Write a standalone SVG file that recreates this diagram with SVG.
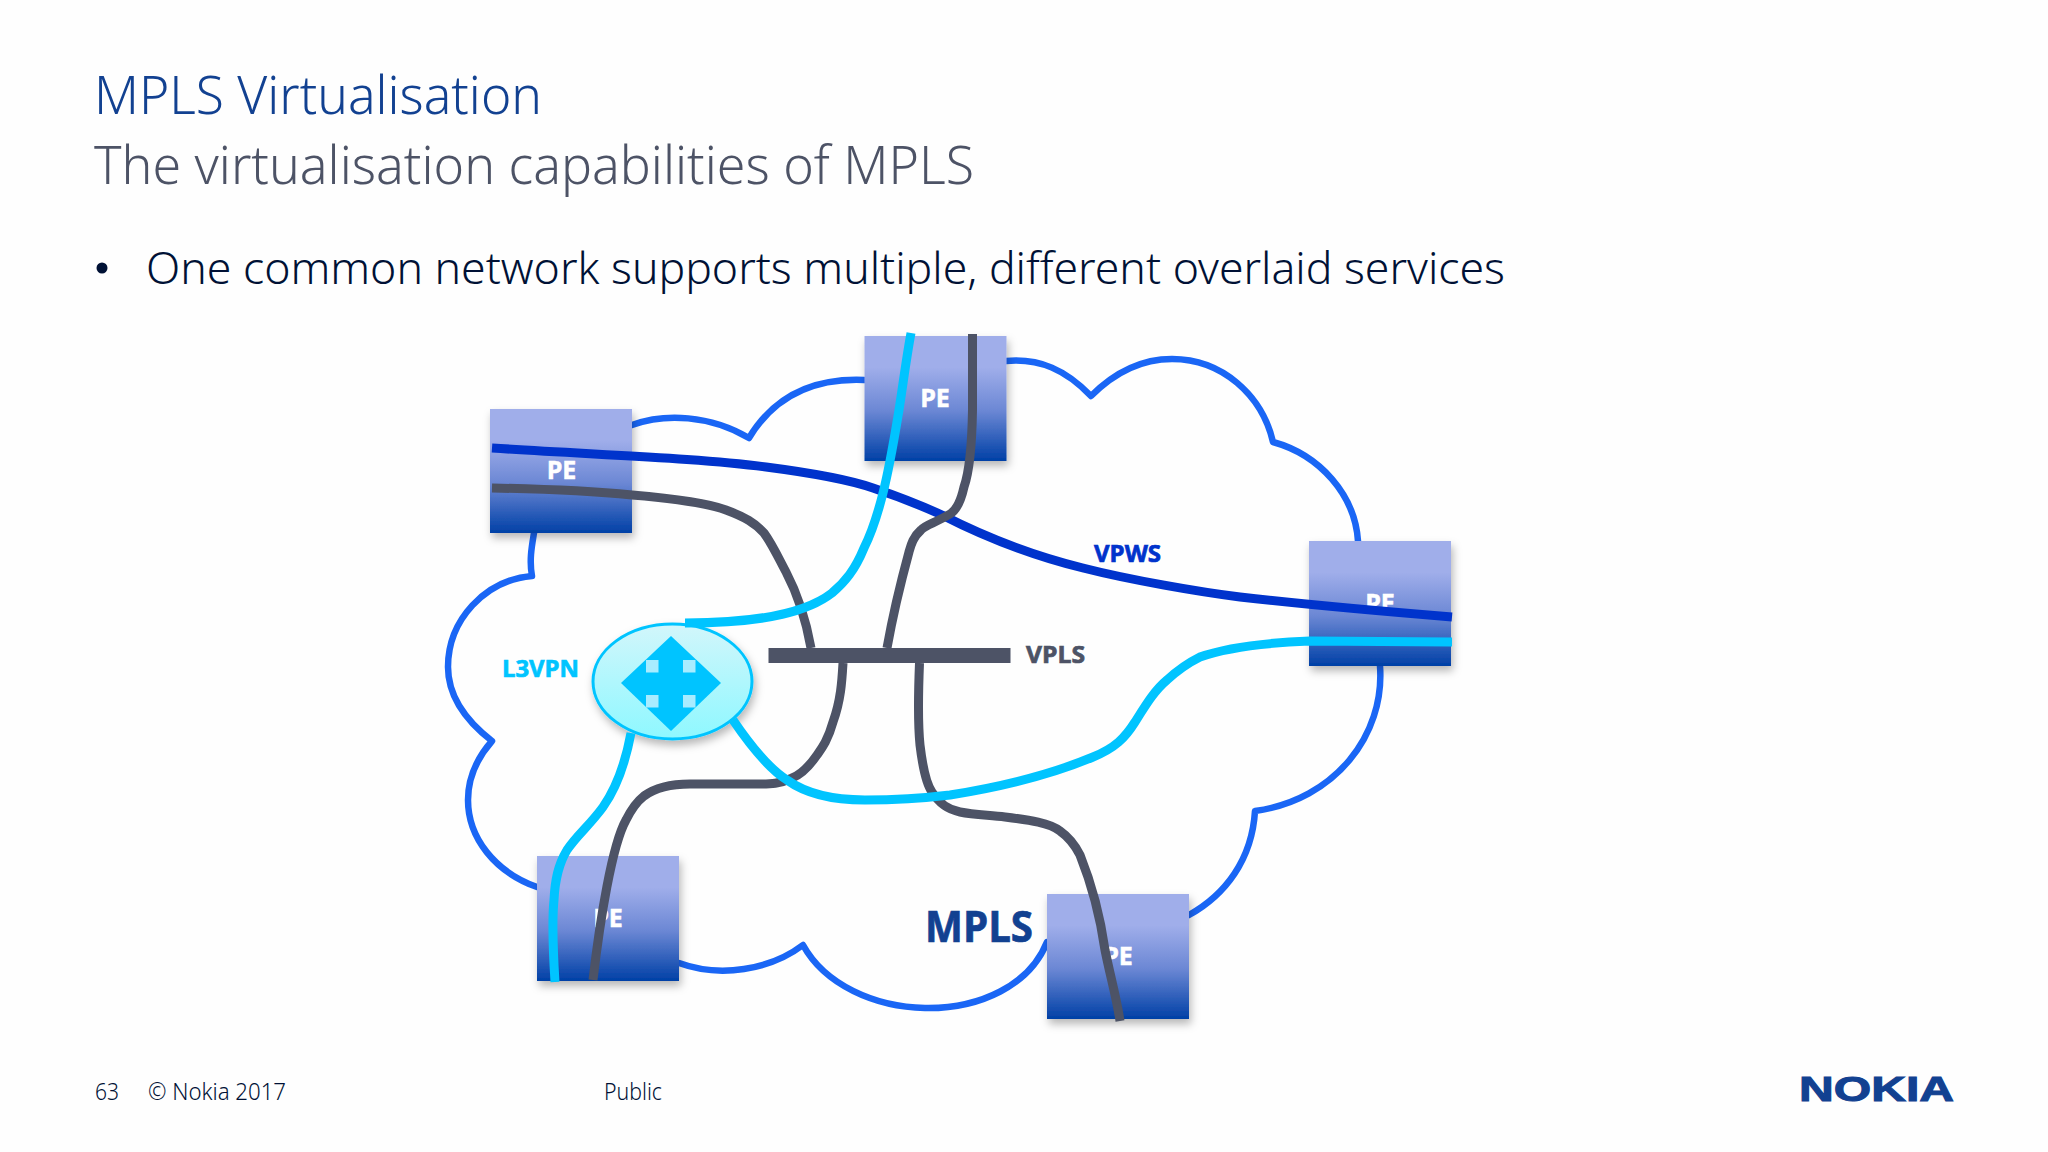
<svg xmlns="http://www.w3.org/2000/svg" width="2048" height="1152" viewBox="0 0 2048 1152">
<style>
.t{font-family:"Noto Sans","Open Sans","Liberation Sans",sans-serif;font-weight:300}
.b{font-family:"Open Sans","Noto Sans","Liberation Sans",sans-serif;font-weight:700}
.pe{fill:#fff;font-size:25px;text-anchor:middle;stroke:#fff;stroke-width:.5}
.box{fill:url(#peg);filter:url(#sh)}
.cloud{fill:none;stroke:#1a66f5;stroke-width:6.5;stroke-linejoin:round;stroke-linecap:round}
.ln{fill:none;stroke-width:9}
.grey{stroke:#4d5366}.cy{stroke:#00c4ff}.bl{stroke:#0033cc}
.sq{fill:#a8ecff}
.lab{stroke-width:.7}
</style>
<defs>
<linearGradient id="peg" x1="0" y1="0" x2="0" y2="1">
<stop offset="0" stop-color="#a0aeea"/><stop offset=".25" stop-color="#a0aeea"/><stop offset=".6" stop-color="#6b87d4"/><stop offset="1" stop-color="#0040a6"/>
</linearGradient>
<linearGradient id="rg" x1="0" y1="0" x2="0" y2="1">
<stop offset="0" stop-color="#d2f6fb"/><stop offset="1" stop-color="#8ef8ff"/>
</linearGradient>
<filter id="sh" x="-15%" y="-15%" width="130%" height="130%">
<feDropShadow dx="2" dy="5" stdDeviation="4" flood-color="#000" flood-opacity=".28"/>
</filter>
</defs>
<rect width="2048" height="1152" fill="#fefefe"/>

<g id="heading">
<text class="t" x="94" y="114" font-size="54" fill="#124191" textLength="448" lengthAdjust="spacingAndGlyphs">MPLS Virtualisation</text>
<text class="t" x="94" y="184" font-size="54" fill="#4d5366" textLength="880" lengthAdjust="spacingAndGlyphs">The virtualisation capabilities of MPLS</text>
<circle cx="102" cy="268" r="5.5" fill="#001135"/>
<text class="t" x="146" y="284" font-size="44" fill="#001135" textLength="1359" lengthAdjust="spacingAndGlyphs">One common network supports multiple, different overlaid services</text>
</g>

<g id="mpls-cloud">
<path class="cloud" d="M632,425C665,413 710,415 749,438C775,395 815,378 864,380"/>
<path class="cloud" d="M1006,361C1040,358 1066,370 1091,396C1117,370 1145,359 1172,359C1222,359 1262,395 1273,442C1320,455 1355,495 1358,541"/>
<path class="cloud" d="M1380,666C1385,735 1335,800 1255,811C1252,860 1225,895 1189,915"/>
<path class="cloud" d="M1047,942C1030,985 980,1009 925,1008C875,1007 825,985 803,945C770,970 720,978 679,963"/>
<path class="cloud" d="M537,887C495,872 468,838 468,800C468,775 478,757 492,741C465,720 448,695 448,667C448,620 485,580 532,576C529,560 532,545 534,533"/>
<text class="b lab" x="925" y="942" font-size="43" fill="#124191" stroke="#124191" textLength="108" lengthAdjust="spacingAndGlyphs">MPLS</text>
</g>

<g id="pe-top-left"><rect class="box" x="490" y="409" width="142" height="124"/><text class="b pe" x="561.500" y="479">PE</text></g>
<g id="pe-top"><rect class="box" x="864.500" y="336" width="142" height="125"/><text class="b pe" x="935" y="407">PE</text></g>
<g id="pe-right"><rect class="box" x="1309" y="541" width="142" height="125"/><text class="b pe" x="1380" y="612">PE</text></g>
<g id="pe-bottom-left"><rect class="box" x="537" y="856" width="142" height="125"/><text class="b pe" x="608" y="927">PE</text></g>
<g id="pe-bottom-right"><rect class="box" x="1047" y="894" width="142" height="125"/><text class="b pe" x="1118" y="965">PE</text></g>

<g id="l3vpn-router">
<ellipse cx="672.500" cy="681.500" rx="79.500" ry="57.500" fill="url(#rg)" stroke="#00c4ff" stroke-width="3" filter="url(#sh)"/>
<polygon points="671,636 721,683 671,731 621,683" fill="#00c4ff"/>
<rect class="sq" x="646" y="660" width="12.500" height="12.500"/>
<rect class="sq" x="683" y="660" width="12.500" height="12.500"/>
<rect class="sq" x="646" y="695" width="12.500" height="12.500"/>
<rect class="sq" x="683" y="695" width="12.500" height="12.500"/>
</g>

<g id="vpls-bus">
<rect x="768.500" y="648" width="242" height="15" fill="#4d5366"/>
</g>

<g id="connectors">
<path class="ln bl" d="M492,448C600,455 700,458 766,467C820,474 850,480 873,488C900,497 920,505 942,515C985,537 1030,555 1083,568C1130,580 1200,592 1240,597C1310,605 1390,612 1452,617"/>
<path class="ln grey" d="M972.500,334L972.500,410C972,440 970,470 964,487C960,505 955,511 950,514C935,523 925,525 921,530C913,537 911,545 909,552C900,585 892,620 887,648"/>
<path class="ln grey" d="M492,488C540,489 590,491 632,495C680,499 710,504 726,510C745,517 755,523 764,533C772,544 778,557 786,572C797,593 806,620 811,648"/>
<path class="ln grey" d="M843,663C842,680 841,700 833,722C828,740 822,748 817,755C808,768 800,775 792,778C780,784 770,784 760,784L690,784C670,784 655,788 644,796C635,803 630,812 626,820C612,845 600,920 593,980"/>
<path class="ln grey" d="M919.500,663C918,700 918,725 920,745C923,770 927,785 932,792C940,805 950,810 960,812C975,815 990,815 1005,817C1030,820 1050,823 1060,831C1070,838 1075,845 1080,855C1092,885 1100,915 1105,950C1110,975 1117,1000 1120,1021"/>
<path class="ln cy" d="M911,333C906,360 903,385 899,410C894,440 890,465 883,493C875,525 868,540 864,548C855,570 845,582 832,593C810,610 770,623 685,623"/>
<path class="ln cy" d="M631,733C625,765 615,790 603,807C590,825 577,835 567,850C558,865 555,880 554,900C552,920 553,950 555,982"/>
<path class="ln cy" d="M733,720C750,745 768,768 787,780C805,793 830,800 865,800C900,800 925,798 950,795C1000,787 1050,775 1093,757C1115,748 1125,738 1135,722C1147,703 1155,690 1167,680C1180,668 1190,662 1200,657C1225,648 1260,643 1310,641L1452,642"/>
</g>

<g id="labels">
<text class="b lab" x="502" y="677" font-size="24" fill="#00c4ff" stroke="#00c4ff" textLength="77" lengthAdjust="spacingAndGlyphs">L3VPN</text>
<text class="b lab" x="1026" y="663" font-size="24" fill="#4d5366" stroke="#4d5366" textLength="59" lengthAdjust="spacingAndGlyphs">VPLS</text>
<text class="b lab" x="1094" y="562" font-size="24" fill="#0033cc" stroke="#0033cc" textLength="67" lengthAdjust="spacingAndGlyphs">VPWS</text>
</g>

<g id="footer">
<text class="t" x="95" y="1100" font-size="23" fill="#001135" textLength="24" lengthAdjust="spacingAndGlyphs">63</text>
<text class="t" x="148" y="1100" font-size="23" fill="#001135" textLength="138" lengthAdjust="spacingAndGlyphs">© Nokia 2017</text>
<text class="t" x="604" y="1100" font-size="23" fill="#001135" textLength="58" lengthAdjust="spacingAndGlyphs">Public</text>
<text x="1799" y="1101" font-family="'Liberation Sans',sans-serif" font-weight="700" font-size="35" fill="#124191" stroke="#124191" stroke-width="1" textLength="155" lengthAdjust="spacingAndGlyphs">NOKIA</text>
</g>
</svg>
